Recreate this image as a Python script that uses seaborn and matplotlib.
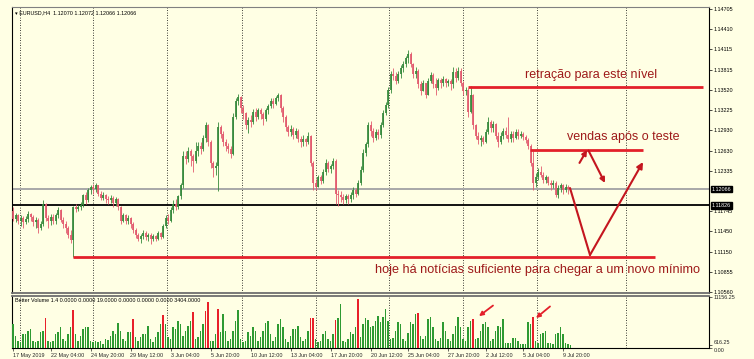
import numpy as np
import pandas as pd
import matplotlib
matplotlib.use("Agg")
import matplotlib.pyplot as plt
from matplotlib.transforms import blended_transform_factory
import seaborn as sns

sns.set_style("white")
plt.rcParams['font.family'] = ['Liberation Sans', 'DejaVu Sans']

# ---------------- data (EURUSD H4) ----------------
opens = [
    1.1175, 1.1163, 1.1168, 1.1160, 1.1165, 1.1158, 1.1163, 1.1170, 1.1166, 1.1158,
    1.1162, 1.1150, 1.1156, 1.1185, 1.1165, 1.1160, 1.1166, 1.1160, 1.1168, 1.1176,
    1.1162, 1.1155, 1.1150, 1.1140, 1.1132, 1.1180, 1.1178, 1.1180, 1.1183, 1.1198,
    1.1190, 1.1205, 1.1210, 1.1207, 1.1212, 1.1200, 1.1194, 1.1198, 1.1192, 1.1190,
    1.1194, 1.1186, 1.1192, 1.1180, 1.1160, 1.1168, 1.1160, 1.1164, 1.1155, 1.1147,
    1.1140, 1.1133, 1.1138, 1.1142, 1.1136, 1.1140, 1.1133, 1.1138, 1.1134, 1.1142,
    1.1136, 1.1152, 1.1165, 1.1160, 1.1176, 1.1185, 1.1180, 1.1196, 1.1212, 1.1255,
    1.1250, 1.1262, 1.1255, 1.1248, 1.1262, 1.1270, 1.1265, 1.1282, 1.1300, 1.1275,
    1.1245, 1.1238, 1.1240, 1.1298, 1.1288, 1.1275, 1.1270, 1.1265, 1.1258, 1.1312,
    1.1335, 1.1342, 1.1325, 1.1318, 1.1300, 1.1308, 1.1305, 1.1320, 1.1312, 1.1322,
    1.1316, 1.1310, 1.1322, 1.1328, 1.1336, 1.1332, 1.1340, 1.1344, 1.1325, 1.1312,
    1.1298, 1.1290, 1.1295, 1.1286, 1.1292, 1.1280, 1.1275, 1.1280, 1.1276, 1.1284,
    1.1245, 1.1215, 1.1210, 1.1225, 1.1218, 1.1232, 1.1245, 1.1236, 1.1240, 1.1248,
    1.1200, 1.1198, 1.1195, 1.1190, 1.1196, 1.1192, 1.1198, 1.1205, 1.1200, 1.1215,
    1.1235, 1.1260, 1.1272, 1.1300, 1.1292, 1.1282, 1.1290, 1.1286, 1.1300, 1.1318,
    1.1330, 1.1352, 1.1375, 1.1372, 1.1365, 1.1375, 1.1384, 1.1390, 1.1398, 1.1405,
    1.1390, 1.1375, 1.1380, 1.1360, 1.1350, 1.1362, 1.1345, 1.1365, 1.1374, 1.1360,
    1.1355, 1.1366, 1.1362, 1.1368, 1.1362, 1.1365, 1.1360, 1.1378, 1.1370, 1.1380,
    1.1362, 1.1350, 1.1352, 1.1320, 1.1345, 1.1300, 1.1285, 1.1278, 1.1282, 1.1276,
    1.1290, 1.1305, 1.1296, 1.1302, 1.1285, 1.1275, 1.1285, 1.1292, 1.1286, 1.1280,
    1.1288, 1.1282, 1.1290, 1.1285, 1.1288, 1.1283, 1.1278, 1.1270, 1.1245, 1.1215,
    1.1225, 1.1232, 1.1228, 1.1220, 1.1224, 1.1216, 1.1212, 1.1215, 1.1198, 1.1208,
    1.1212, 1.1206, 1.1210, 1.12070,
]
highs = [
    1.1180, 1.1172, 1.1170, 1.1168, 1.1167, 1.1167, 1.1175, 1.1172, 1.1168, 1.1166,
    1.1164, 1.1160, 1.1190, 1.1186, 1.1168, 1.1170, 1.1170, 1.1172, 1.1180, 1.1178,
    1.1166, 1.1160, 1.1152, 1.1146, 1.1182, 1.1185, 1.1184, 1.1187, 1.1200, 1.1202,
    1.1208, 1.1213, 1.1214, 1.1216, 1.1213, 1.1204, 1.1202, 1.1200, 1.1196, 1.1198,
    1.1196, 1.1195, 1.1194, 1.1182, 1.1172, 1.1170, 1.1168, 1.1166, 1.1158, 1.1150,
    1.1142, 1.1141, 1.1146, 1.1145, 1.1143, 1.1142, 1.1141, 1.1140, 1.1145, 1.1144,
    1.1156, 1.1168, 1.1170, 1.1180, 1.1190, 1.1192, 1.1198, 1.1216, 1.1262, 1.1262,
    1.1268, 1.1266, 1.1258, 1.1275, 1.1275, 1.1275, 1.1286, 1.1305, 1.1302, 1.1278,
    1.1248, 1.1246, 1.1305, 1.1300, 1.1292, 1.1280, 1.1274, 1.1270, 1.1318, 1.1340,
    1.1346, 1.1343, 1.1330, 1.1320, 1.1312, 1.1315, 1.1324, 1.1326, 1.1326, 1.1326,
    1.1320, 1.1326, 1.1332, 1.1340, 1.1340, 1.1343, 1.1348, 1.1346, 1.1328, 1.1315,
    1.1300, 1.1300, 1.1298, 1.1296, 1.1294, 1.1285, 1.1286, 1.1282, 1.1290, 1.1286,
    1.1248, 1.1222, 1.1228, 1.1228, 1.1236, 1.1250, 1.1248, 1.1244, 1.1252, 1.1250,
    1.1205, 1.1204, 1.1200, 1.1200, 1.1200, 1.1202, 1.1210, 1.1208, 1.1220, 1.1240,
    1.1265, 1.1276, 1.1305, 1.1306, 1.1296, 1.1295, 1.1294, 1.1305, 1.1322, 1.1334,
    1.1356, 1.1380, 1.1384, 1.1378, 1.1380, 1.1388, 1.1395, 1.1402, 1.1410, 1.1408,
    1.1392, 1.1386, 1.1382, 1.1365, 1.1366, 1.1362, 1.1370, 1.1378, 1.1376, 1.1370,
    1.1370, 1.1370, 1.1372, 1.1370, 1.1368, 1.1368, 1.1386, 1.1384, 1.1386, 1.1384,
    1.1365, 1.1356, 1.1354, 1.1357, 1.1346, 1.1302, 1.1290, 1.1286, 1.1285, 1.1294,
    1.1312, 1.1308, 1.1306, 1.1304, 1.1290, 1.1290, 1.1296, 1.1298, 1.1312, 1.1292,
    1.1292, 1.1294, 1.1294, 1.1292, 1.1290, 1.1286, 1.1282, 1.1272, 1.1262, 1.1230,
    1.1238, 1.1240, 1.1232, 1.1228, 1.1226, 1.1220, 1.1220, 1.1218, 1.1212, 1.1216,
    1.1214, 1.1214, 1.1212, 1.12072,
]
lows = [
    1.1160, 1.1158, 1.1155, 1.1152, 1.1150, 1.1155, 1.1158, 1.1160, 1.1152, 1.1150,
    1.1142, 1.1146, 1.1152, 1.1160, 1.1150, 1.1154, 1.1155, 1.1156, 1.1164, 1.1158,
    1.1150, 1.1143, 1.1135, 1.1128, 1.1107, 1.1173, 1.1175, 1.1176, 1.1180, 1.1185,
    1.1188, 1.1200, 1.1200, 1.1203, 1.1196, 1.1190, 1.1190, 1.1186, 1.1185, 1.1186,
    1.1180, 1.1182, 1.1176, 1.1155, 1.1158, 1.1155, 1.1156, 1.1150, 1.1143, 1.1135,
    1.1130, 1.1128, 1.1133, 1.1132, 1.1130, 1.1126, 1.1130, 1.1130, 1.1132, 1.1133,
    1.1135, 1.1150, 1.1155, 1.1158, 1.1172, 1.1176, 1.1178, 1.1192, 1.1208, 1.1244,
    1.1246, 1.1240, 1.1231, 1.1245, 1.1255, 1.1258, 1.1262, 1.1276, 1.1270, 1.1238,
    1.1225, 1.1228, 1.1204, 1.1282, 1.1270, 1.1262, 1.1260, 1.1252, 1.1256, 1.1310,
    1.1330, 1.1318, 1.1310, 1.1295, 1.1289, 1.1298, 1.1302, 1.1306, 1.1310, 1.1310,
    1.1300, 1.1306, 1.1316, 1.1325, 1.1326, 1.1330, 1.1335, 1.1320, 1.1305, 1.1292,
    1.1285, 1.1284, 1.1280, 1.1282, 1.1275, 1.1268, 1.1270, 1.1270, 1.1272, 1.1240,
    1.1205, 1.1205, 1.1210, 1.1214, 1.1216, 1.1228, 1.1232, 1.1230, 1.1236, 1.1185,
    1.1182, 1.1188, 1.1185, 1.1186, 1.1185, 1.1188, 1.1192, 1.1195, 1.1198, 1.1212,
    1.1232, 1.1255, 1.1268, 1.1285, 1.1276, 1.1278, 1.1280, 1.1282, 1.1298, 1.1315,
    1.1326, 1.1348, 1.1366, 1.1360, 1.1362, 1.1370, 1.1378, 1.1385, 1.1392, 1.1385,
    1.1370, 1.1370, 1.1355, 1.1345, 1.1350, 1.1340, 1.1345, 1.1362, 1.1355, 1.1345,
    1.1352, 1.1355, 1.1358, 1.1356, 1.1358, 1.1352, 1.1355, 1.1364, 1.1366, 1.1358,
    1.1345, 1.1344, 1.1312, 1.1318, 1.1295, 1.1280, 1.1272, 1.1270, 1.1272, 1.1274,
    1.1288, 1.1290, 1.1290, 1.1280, 1.1268, 1.1272, 1.1280, 1.1282, 1.1275, 1.1276,
    1.1276, 1.1280, 1.1280, 1.1282, 1.1278, 1.1274, 1.1265, 1.1240, 1.1205, 1.1210,
    1.1220, 1.1224, 1.1215, 1.1215, 1.1212, 1.1205, 1.1208, 1.1195, 1.1194, 1.1202,
    1.1200, 1.1202, 1.1200, 1.12066,
]
closes = [
    1.1163, 1.1168, 1.1160, 1.1165, 1.1158, 1.1163, 1.1170, 1.1166, 1.1158, 1.1162,
    1.1150, 1.1156, 1.1185, 1.1165, 1.1160, 1.1166, 1.1160, 1.1168, 1.1176, 1.1162,
    1.1155, 1.1150, 1.1140, 1.1132, 1.1180, 1.1178, 1.1180, 1.1183, 1.1198, 1.1190,
    1.1205, 1.1210, 1.1207, 1.1212, 1.1200, 1.1194, 1.1198, 1.1192, 1.1190, 1.1194,
    1.1186, 1.1192, 1.1180, 1.1160, 1.1168, 1.1160, 1.1164, 1.1155, 1.1147, 1.1140,
    1.1133, 1.1138, 1.1142, 1.1136, 1.1140, 1.1133, 1.1138, 1.1134, 1.1142, 1.1136,
    1.1152, 1.1165, 1.1160, 1.1176, 1.1185, 1.1180, 1.1196, 1.1212, 1.1255, 1.1250,
    1.1262, 1.1255, 1.1248, 1.1262, 1.1270, 1.1265, 1.1282, 1.1300, 1.1275, 1.1245,
    1.1238, 1.1240, 1.1298, 1.1288, 1.1275, 1.1270, 1.1265, 1.1258, 1.1312, 1.1335,
    1.1342, 1.1325, 1.1318, 1.1300, 1.1308, 1.1305, 1.1320, 1.1312, 1.1322, 1.1316,
    1.1310, 1.1322, 1.1328, 1.1336, 1.1332, 1.1340, 1.1344, 1.1325, 1.1312, 1.1298,
    1.1290, 1.1295, 1.1286, 1.1292, 1.1280, 1.1275, 1.1280, 1.1276, 1.1284, 1.1245,
    1.1215, 1.1210, 1.1225, 1.1218, 1.1232, 1.1245, 1.1236, 1.1240, 1.1248, 1.1200,
    1.1198, 1.1195, 1.1190, 1.1196, 1.1192, 1.1198, 1.1205, 1.1200, 1.1215, 1.1235,
    1.1260, 1.1272, 1.1300, 1.1292, 1.1282, 1.1290, 1.1286, 1.1300, 1.1318, 1.1330,
    1.1352, 1.1375, 1.1372, 1.1365, 1.1375, 1.1384, 1.1390, 1.1398, 1.1405, 1.1390,
    1.1375, 1.1380, 1.1360, 1.1350, 1.1362, 1.1345, 1.1365, 1.1374, 1.1360, 1.1355,
    1.1366, 1.1362, 1.1368, 1.1362, 1.1365, 1.1360, 1.1378, 1.1370, 1.1380, 1.1362,
    1.1350, 1.1352, 1.1320, 1.1345, 1.1300, 1.1285, 1.1278, 1.1282, 1.1276, 1.1290,
    1.1305, 1.1296, 1.1302, 1.1285, 1.1275, 1.1285, 1.1292, 1.1286, 1.1280, 1.1288,
    1.1282, 1.1290, 1.1285, 1.1288, 1.1283, 1.1278, 1.1270, 1.1245, 1.1215, 1.1225,
    1.1232, 1.1228, 1.1220, 1.1224, 1.1216, 1.1212, 1.1215, 1.1198, 1.1208, 1.1212,
    1.1206, 1.1210, 1.1207, 1.12066,
]
volumes = [
    5200, 2600, 1500, 1300, 3000, 3000, 3700, 4100, 1500, 1200,
    1500, 3400, 3700, 6500, 1500, 1200, 1500, 3000, 3400, 4500,
    1900, 1500, 3000, 4500, 8200, 3000, 1500, 2600, 4100, 4600,
    4500, 1500, 1200, 1500, 1200, 1500, 800, 1900, 1700, 2600,
    3700, 3000, 5500, 3700, 1900, 1500, 3400, 3400, 6300, 2300,
    1500, 2300, 3000, 3000, 4800, 1900, 1200, 2300, 3400, 5200,
    7100, 5200, 2300, 1900, 4500, 4100, 5900, 5200, 2600, 3700,
    4800, 5900, 7800, 1900, 2300, 3700, 5200, 8000, 9900, 1500,
    1500, 3000, 8400, 3400, 7400, 3700, 1500, 1900, 3700, 5900,
    8200, 1900, 1200, 1500, 3400, 2600, 4500, 3700, 1500, 2300,
    3700, 5500, 5900, 3000, 1500, 2300, 5200, 6300, 4500, 1900,
    1200, 2600, 4100, 4100, 4800, 2300, 1500, 1900, 3700, 6600,
    6600, 1900, 1200, 1500, 3000, 3700, 1900, 1500, 3000, 6000,
    6600, 9500, 1500, 1200, 1900, 3400, 3100, 4500, 10600, 2300,
    5200, 6600, 6000, 4450, 4800, 5900, 7000, 5540, 6630, 8460,
    5900, 1900, 2260, 3720, 5540, 5180, 1900, 1530, 3350, 5540,
    5180, 7360, 7510, 2620, 1900, 2620, 6270, 6630, 4450, 1900,
    1530, 2260, 5540, 3720, 1900, 1530, 2990, 4810, 6630, 4450,
    1900, 1530, 4450, 5900, 6270, 1900, 2260, 3720, 5180, 5540,
    4450, 1530, 1900, 3720, 4810, 4450, 6270, 1170, 1170, 1170,
    2260, 2260, 1530, 800, 800, 800, 5540, 5180, 6780, 1530,
    1170, 2990, 3350, 3720, 1170, 1170, 800, 2990, 3350, 4450,
    2990, 1170, 950, 580,
]
climax_bars = [13, 24, 48, 60, 72, 77, 78, 82, 119, 120, 129, 138, 162, 184, 208]

price_ticks = [1.14705, 1.14410, 1.14115, 1.13815, 1.13520, 1.13225, 1.12930,
               1.12630, 1.12335, 1.11745, 1.11450, 1.11150, 1.10855, 1.10560]
price_tick_labels = ['1.14705', '1.14410', '1.14115', '1.13815', '1.13520', '1.13225',
                     '1.12930', '1.12630', '1.12335', '1.11745', '1.11450', '1.11150',
                     '1.10855', '1.10560']
bid_level = 1.12066
black_level = 1.11826
time_labels = ['17 May 2019', '22 May 04:00', '24 May 20:00', '29 May 12:00',
               '3 Jun 04:00', '5 Jun 20:00', '10 Jun 12:00', '13 Jun 04:00',
               '17 Jun 20:00', '20 Jun 12:00', '25 Jun 04:00', '27 Jun 20:00',
               '2 Jul 12:00', '5 Jul 04:00', '9 Jul 20:00']
time_label_bars = [0, 15, 31, 47, 63, 79, 95, 111, 127, 143, 158, 174, 189, 204, 220]
grid_bars = [2.8, 32, 61.6, 91.6, 121.2, 150.4, 180, 209.6, 245.2]

# annotation levels (user-drawn lines)
retracement_level = 1.13562
sell_level = 1.12639
target_level = 1.11072

# ---------------- styling ----------------
BG = '#FFFFE4'
UP = '#35893B'
DOWN = '#E2596D'
VOL_UP = '#2E9A32'
VOL_CLIMAX = '#E8202A'
LINE_RED = '#E3202A'
ARROW_RED = '#C4161F'
TEXT_RED = '#9E1A1A'
TS = 3.9

W, H = 754, 359
fig = plt.figure(figsize=(W / 100, H / 100), dpi=100, facecolor=BG)
L, R = 12, 709
ax = fig.add_axes([L / W, 1 - 293 / H, (R - L) / W, (293 - 7) / H], facecolor=BG)
axv = fig.add_axes([L / W, 1 - 348 / H, (R - L) / W, (348 - 296) / H], facecolor=BG)

n = len(closes)
idx = np.arange(n)
o = np.array(opens); h = np.array(highs); l = np.array(lows); c = np.array(closes)
up = c >= o
cols = np.where(up, UP, DOWN)
lo = np.minimum(l, np.minimum(o, c))
hi = np.maximum(h, np.maximum(o, c))

xlim = ((L - 13) / 2.5, (R - 13) / 2.5)

# volume via seaborn (categorical positions 0..n-1 == bar index)
vdf = pd.DataFrame({'bar': idx, 'volume': volumes,
                    'kind': ['climax' if i in climax_bars else 'normal' for i in idx]})
sns.barplot(data=vdf, x='bar', y='volume', hue='kind', order=list(idx),
            palette={'climax': VOL_CLIMAX, 'normal': VOL_UP}, dodge=False,
            width=0.62, saturation=1, errorbar=None, legend=False, ax=axv,
            linewidth=0, edgecolor='none', zorder=3)
axv.set_xlim(*xlim)
axv.set_ylim(0, 11156.25 * 1.01)
axv.set_xlabel(''); axv.set_ylabel('')

# grid
for gx in grid_bars:
    ax.axvline(gx, color='black', lw=0.6, ls=(0, (1, 2)), zorder=1)
    axv.axvline(gx, color='black', lw=0.6, ls=(0, (1, 2)), zorder=1)

# level lines
ax.axhline(bid_level, color='#A8A8A8', lw=1.4, zorder=2)
ax.axhline(black_level, color='black', lw=1.3, zorder=2)

# candles
ax.vlines(idx, lo, hi, colors=cols, lw=0.6, zorder=3)
ax.vlines(idx, np.minimum(o, c), np.maximum(o, c), colors=cols, lw=1.25, zorder=3)

ax.set_xlim(*xlim)
ax.set_ylim(1.10544, 1.14734)

# user-drawn red lines
ax.plot([182, 276], [retracement_level] * 2, color=LINE_RED, lw=2.0, zorder=4, solid_capstyle='butt')
ax.plot([206.8, 252], [sell_level] * 2, color=LINE_RED, lw=2.0, zorder=4, solid_capstyle='butt')
ax.plot([24, 256.8], [target_level] * 2, color=LINE_RED, lw=2.0, zorder=4, solid_capstyle='butt')

# arrows
ax.plot([222.8, 230.8], [1.12082, 1.11101], color=ARROW_RED, lw=1.5, zorder=5)
ax.annotate('', xy=(252, 1.12463), xytext=(230.8, 1.11101),
            arrowprops=dict(arrowstyle='-|>', color=ARROW_RED, lw=1.5, mutation_scale=9,
                            shrinkA=0, shrinkB=0), zorder=5)
ax.annotate('', xy=(229.6, 1.12640), xytext=(226.6, 1.12450),
            arrowprops=dict(arrowstyle='-|>', color=ARROW_RED, lw=1.5, mutation_scale=7,
                            shrinkA=0, shrinkB=0), zorder=5)
ax.annotate('', xy=(236.8, 1.12156), xytext=(230.2, 1.12630),
            arrowprops=dict(arrowstyle='-|>', color=ARROW_RED, lw=1.5, mutation_scale=7,
                            shrinkA=0, shrinkB=0), zorder=5)
axv.annotate('', xy=(186.4, 6900), xytext=(192, 9200),
             arrowprops=dict(arrowstyle='-|>', color=LINE_RED, lw=1.3, mutation_scale=6,
                             shrinkA=0, shrinkB=0), zorder=5)
axv.annotate('', xy=(209.2, 6500), xytext=(214.8, 9000),
             arrowprops=dict(arrowstyle='-|>', color=LINE_RED, lw=1.3, mutation_scale=6,
                             shrinkA=0, shrinkB=0), zorder=5)

# annotation texts
ax.text(204.8, 1.13740, 'retração para este nível', color=TEXT_RED, fontsize=9,
        va='center', ha='left', zorder=6)
ax.text(221.6, 1.12830, 'vendas após o teste', color=TEXT_RED, fontsize=9,
        va='center', ha='left', zorder=6)
ax.text(144.8, 1.10881, 'hoje há notícias suficiente para chegar a um novo mínimo',
        color=TEXT_RED, fontsize=9.1, va='center', ha='left', zorder=6, clip_on=False)

# headers
ax.text(0.004, 0.988, '▾ EURUSD,H4  1.12070 1.12072 1.12066 1.12066', transform=ax.transAxes,
        fontsize=TS, va='top', ha='left', color='black')
axv.text(0.004, 0.97, 'Better Volume 1.4 0.0000 0.0000 19.0000 0.0000 0.0000 0.0000 3404.0000',
         transform=axv.transAxes, fontsize=TS, va='top', ha='left', color='black')

# price axis on the right
ax.yaxis.tick_right()
ax.set_yticks(price_ticks)
ax.set_yticklabels(price_tick_labels)
ax.tick_params(axis='y', which='both', right=True, left=False, labelsize=TS,
               length=2, width=0.5, pad=1.5, colors='black')
ax.set_xticks([])
tr = blended_transform_factory(ax.transAxes, ax.transData)
for lvl in (bid_level, black_level):
    ax.text(1.004, lvl, f'{lvl:.5f}', transform=tr, fontsize=TS, color='white',
            va='center', ha='left', zorder=7,
            bbox=dict(boxstyle='square,pad=0.15', fc='black', ec='black'))

axv.yaxis.tick_right()
axv.set_yticks([11156.25, 616.25, 0])
vlabels = axv.set_yticklabels(['11156.25', '616.25', '0.00'])
vlabels[1].set_verticalalignment('bottom')
vlabels[2].set_verticalalignment('top')
axv.tick_params(axis='y', right=True, left=False, labelsize=TS, length=2, width=0.5, pad=1.5)
axv.set_xticks(time_label_bars)
axv.set_xticklabels(time_labels, ha='left')
axv.tick_params(axis='x', bottom=True, labelsize=TS, length=2, width=0.5, pad=1.5)

for a in (ax, axv):
    for s in a.spines.values():
        s.set_color('black'); s.set_linewidth(0.8)
ax.spines['top'].set_color('#808080')
ax.spines['bottom'].set_color('#6E6E6E'); ax.spines['bottom'].set_linewidth(1.3)
axv.spines['top'].set_color('#6E6E6E'); axv.spines['top'].set_linewidth(1.3)

fig.savefig('out.png', dpi=100, facecolor=BG)
